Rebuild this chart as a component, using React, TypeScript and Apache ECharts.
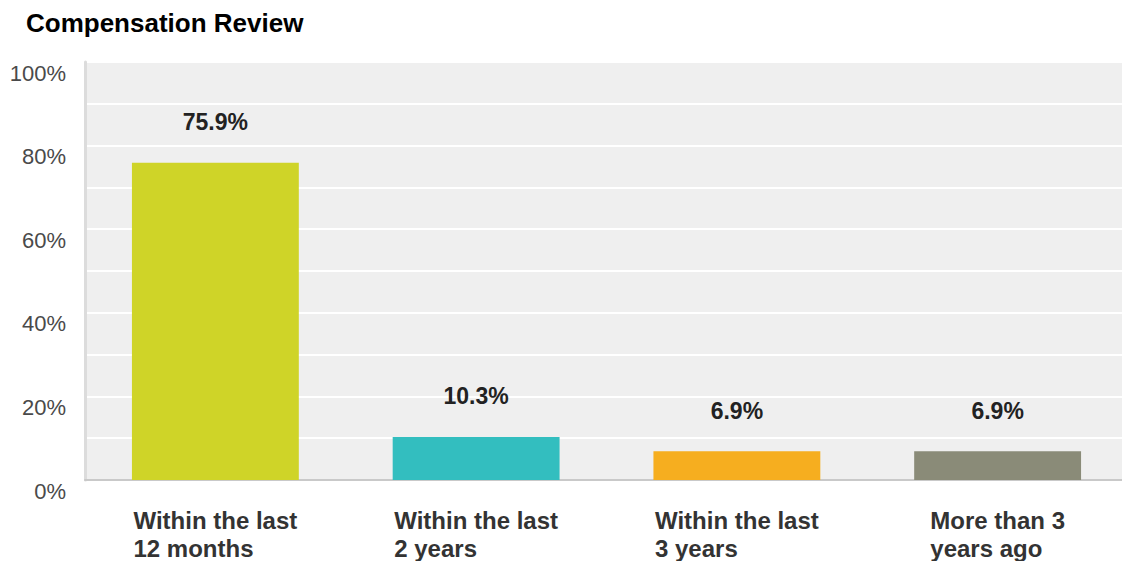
import React, { useEffect, useRef } from "react";
import * as echarts from "echarts";

const categories = [
  "Within the last\n12 months",
  "Within the last\n2 years",
  "Within the last\n3 years",
  "More than 3\nyears ago",
];
const values = [75.9, 10.3, 6.9, 6.9];
const barColors = ["#cfd428", "#33bebf", "#f6ae1f", "#8a8b78"];
const yTicks = [0, 20, 40, 60, 80, 100];

const FONT = "'Liberation Sans', Arial, Helvetica, sans-serif";

export default function App() {
  const ref = useRef<HTMLDivElement>(null);
  useEffect(() => {
    if (!ref.current) return;
    const chart = echarts.init(ref.current, null, { renderer: "svg" });
    chart.setOption({
      animation: false,
      backgroundColor: "#ffffff",
      title: {
        text: "Compensation Review",
        left: 21,
        top: 5,
        textStyle: {
          fontFamily: FONT,
          fontSize: 26,
          fontWeight: "bold",
          color: "#000000",
        },
      },
      grid: {
        left: 85,
        right: 0,
        top: 62,
        bottom: 81,
        show: true,
        backgroundColor: "#efefef",
        borderWidth: 0,
        containLabel: false,
      },
      xAxis: {
        type: "category",
        data: categories,
        axisLine: { show: true, lineStyle: { color: "#c9c9c9", width: 2 } },
        axisTick: { show: false },
        splitLine: { show: false },
        axisLabel: {
          margin: 26,
          interval: 0,
          formatter: (v: string) =>
            v
              .split("\n")
              .map((l) => `{l|${l}}`)
              .join("\n"),
          rich: {
            l: {
              fontFamily: FONT,
              fontSize: 24,
              fontWeight: "bold",
              color: "#333333",
              lineHeight: 28,
              align: "left",
            },
          },
        },
      },
      yAxis: {
        type: "value",
        min: 0,
        max: 100,
        interval: 10,
        axisLine: { show: true, lineStyle: { color: "#dcdcdc", width: 3 } },
        axisTick: { show: false },
        splitLine: { show: true, lineStyle: { color: "#ffffff", width: 2 } },
        axisLabel: {
          margin: 19,
          verticalAlign: "top",
          fontFamily: FONT,
          fontSize: 22,
          color: "#4a4a4a",
          formatter: (v: number) => (yTicks.includes(v) ? `${v}%` : ""),
        },
      },
      series: [
        {
          type: "bar",
          barCategoryGap: "36%",
          data: values.map((v, i) => ({
            value: v,
            itemStyle: { color: barColors[i] },
          })),
          label: {
            show: true,
            position: "top",
            distance: 29,
            formatter: (p: any) => `${p.value.toFixed(1)}%`,
            fontFamily: FONT,
            fontSize: 23,
            fontWeight: "bold",
            color: "#222222",
          },
        },
      ],
    });
    return () => chart.dispose();
  }, []);
  return (
    <div
      ref={ref}
      style={{
        position: "fixed",
        left: 0,
        top: 0,
        width: 1128,
        height: 561,
      }}
    />
  );
}
